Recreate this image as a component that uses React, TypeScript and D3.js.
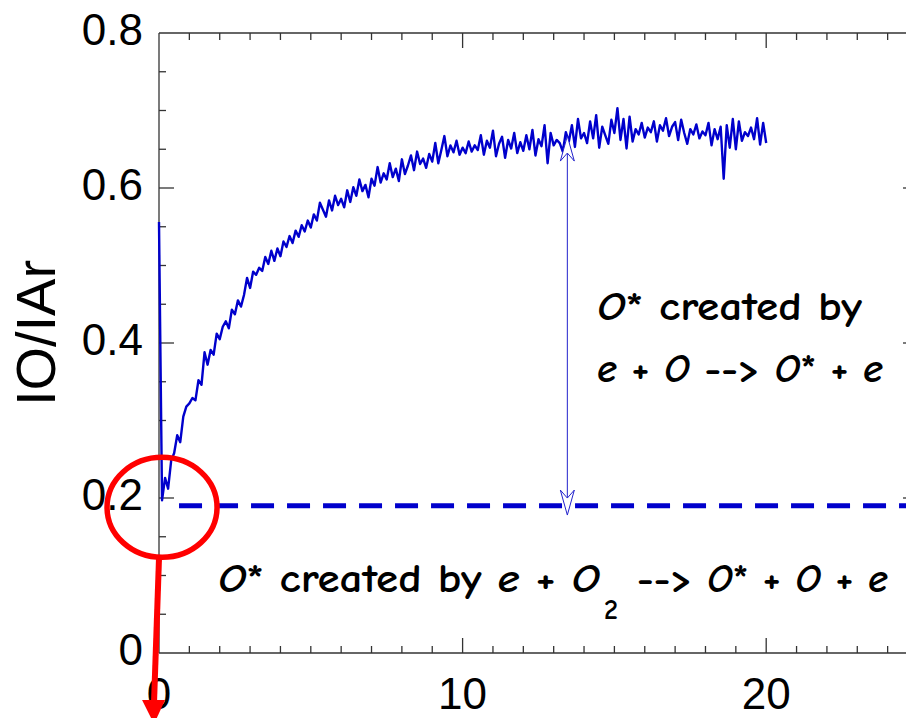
import React from 'react'
import * as d3 from 'd3'

const W = 906
const H = 718

// IO/IAr ratio, sampled every 0.1 time unit from t = 0 to t = 20
const SAMPLE_START = 0
const SAMPLE_STEP = 0.1
const ratio = [
  0.556, 0.197, 0.226, 0.212, 0.248, 0.258, 0.281, 0.272, 0.305, 0.318,
  0.322, 0.329, 0.326, 0.352, 0.346, 0.388, 0.372, 0.391, 0.385, 0.412,
  0.405, 0.421, 0.428, 0.419, 0.443, 0.437, 0.455, 0.447, 0.462, 0.484,
  0.471, 0.492, 0.488, 0.497, 0.493, 0.511, 0.502, 0.519, 0.506, 0.522,
  0.512, 0.531, 0.524, 0.538, 0.529, 0.545, 0.537, 0.552, 0.544, 0.558,
  0.549, 0.566, 0.558, 0.581, 0.572, 0.563, 0.584, 0.571, 0.590, 0.578,
  0.586, 0.575, 0.597, 0.582, 0.601, 0.590, 0.611, 0.596, 0.604, 0.588,
  0.612, 0.603, 0.627, 0.607, 0.619, 0.611, 0.632, 0.614, 0.625, 0.609,
  0.637, 0.618, 0.629, 0.642, 0.623, 0.647, 0.631, 0.638, 0.626, 0.644,
  0.634, 0.658, 0.632, 0.649, 0.667, 0.641, 0.655, 0.646, 0.661, 0.643,
  0.652, 0.645, 0.660, 0.647, 0.655, 0.649, 0.668, 0.643, 0.661, 0.652,
  0.674, 0.641, 0.657, 0.666, 0.639, 0.662, 0.651, 0.671, 0.645, 0.659,
  0.648, 0.668, 0.650, 0.675, 0.642, 0.663, 0.654, 0.681, 0.632, 0.671,
  0.655, 0.662, 0.658, 0.647, 0.672, 0.660, 0.681, 0.653, 0.689, 0.664,
  0.671, 0.658, 0.686, 0.664, 0.694, 0.652, 0.679, 0.668, 0.657, 0.688,
  0.671, 0.703, 0.662, 0.689, 0.651, 0.692, 0.660, 0.676, 0.669, 0.684,
  0.665, 0.678, 0.672, 0.686, 0.660, 0.681, 0.674, 0.690, 0.667, 0.679,
  0.685, 0.662, 0.688, 0.671, 0.657, 0.676, 0.669, 0.682, 0.664, 0.673,
  0.668, 0.684, 0.655, 0.676, 0.663, 0.679, 0.612, 0.681, 0.652, 0.689,
  0.650, 0.686, 0.661, 0.672, 0.667, 0.678, 0.663, 0.690, 0.656, 0.684,
  0.658,
]

const xTickLabels = [0, 10, 20]
const yTickLabels = [0, 0.2, 0.4, 0.6, 0.8]

// annotation levels
const baseLevel = 0.19 // dashed line: O* from e + O2
const dashStart = 0.66
const arrowT = 13.45
const arrowTop = 0.667
const arrowBottom = 0.178
const circleT = 0.1
const circleLevel = 0.188

const BLUE = '#0000cc'
const AXIS = '#333'
const comic = "'Comic Sans MS','Comic Neue','DejaVu Sans',sans-serif"
const arial = "Arial,'Liberation Sans',sans-serif"

export default function App() {
  const x = d3.scaleLinear().domain([0, 25]).range([159, 918])
  const y = d3.scaleLinear().domain([0, 0.8]).range([653, 33])

  const pts: [number, number][] = ratio.map((v, i) => [SAMPLE_START + i * SAMPLE_STEP, v])
  const line = d3
    .line<[number, number]>()
    .x((d) => x(d[0]))
    .y((d) => y(d[1]))

  const minorX = d3.range(1, 25)
  const minorY = d3.range(0.05, 0.8, 0.05)

  const ax = x(arrowT)
  const yTop = y(arrowTop)
  const yBot = y(arrowBottom)
  // open notched arrowhead, tip at origin pointing down
  const headDown = '0,0 -7,-25 0,-17 7,-25'
  const headUp = '0,0 -7,25 0,17 7,25'

  const cx = x(circleT)
  const cy = y(circleLevel)

  return (
    <>
      <style>{'body{margin:0}'}</style>
      <svg width={W} height={H} style={{ display: 'block', background: '#fff' }}>
        {/* frame */}
        <g stroke={AXIS} strokeWidth={1.3} fill="none">
          <line x1={x(0)} x2={x(25)} y1={y(0.8)} y2={y(0.8)} />
          <line x1={x(0)} x2={x(25)} y1={y(0)} y2={y(0)} />
          <line x1={x(0)} x2={x(0)} y1={y(0)} y2={y(0.8)} />
          <line x1={x(25)} x2={x(25)} y1={y(0)} y2={y(0.8)} />
        </g>

        {/* ticks, all inward */}
        <g stroke={AXIS} strokeWidth={1.3}>
          {minorX.map((t) => {
            const len = t % 10 === 0 ? 15 : 7
            return (
              <g key={'xt' + t}>
                <line x1={x(t)} x2={x(t)} y1={y(0)} y2={y(0) - len} />
                <line x1={x(t)} x2={x(t)} y1={y(0.8)} y2={y(0.8) + len} />
              </g>
            )
          })}
          {minorY.map((v, i) => {
            const len = (i + 1) % 4 === 0 ? 15 : 7
            return (
              <g key={'yt' + i}>
                <line x1={x(0)} x2={x(0) + len} y1={y(v)} y2={y(v)} />
                <line x1={x(25)} x2={x(25) - len} y1={y(v)} y2={y(v)} />
              </g>
            )
          })}
        </g>

        {/* tick labels */}
        <g fontFamily={arial} fontSize={44} fill="#000">
          {yTickLabels.map((v) => (
            <text key={'yl' + v} x={143} y={y(v) + 12} textAnchor="end">
              {v === 0 ? '0' : v.toFixed(1)}
            </text>
          ))}
          {xTickLabels.map((t) => (
            <text key={'xl' + t} x={x(t)} y={709} textAnchor="middle">
              {t}
            </text>
          ))}
        </g>

        <text
          transform="translate(55,333) rotate(-90)"
          textAnchor="middle"
          fontFamily={arial}
          fontSize={56}
          fill="#000"
        >
          IO/IAr
        </text>

        {/* data */}
        <path d={line(pts) || ''} fill="none" stroke={BLUE} strokeWidth={2.4} strokeLinejoin="round" />

        {/* baseline from e + O2 */}
        <line
          x1={x(dashStart)}
          x2={x(25)}
          y1={y(baseLevel)}
          y2={y(baseLevel)}
          stroke={BLUE}
          strokeWidth={5}
          strokeDasharray="23 13"
        />

        {/* double arrow between the two levels */}
        <line x1={ax} x2={ax} y1={yTop + 17} y2={yBot - 17} stroke="#2222cc" strokeWidth={1} />
        <polygon
          points={headDown}
          transform={`translate(${ax},${yBot})`}
          fill="#fff"
          stroke="#2222cc"
          strokeWidth={1}
        />
        <polygon
          points={headUp}
          transform={`translate(${ax},${yTop})`}
          fill="#fff"
          stroke="#2222cc"
          strokeWidth={1}
        />

        {/* annotations */}
        <g fontFamily={comic} fontSize={41} fontWeight="bold" fill="#000">
          <text x={597} y={320} textLength={265} lengthAdjust="spacingAndGlyphs">
            <tspan fontStyle="italic">O</tspan>* created by
          </text>
          <text x={597} y={382} textLength={286} lengthAdjust="spacingAndGlyphs">
            <tspan fontStyle="italic">e</tspan> + <tspan fontStyle="italic">O</tspan> --{'>'}{' '}
            <tspan fontStyle="italic">O</tspan>* + <tspan fontStyle="italic">e</tspan>
          </text>
          <text x={218} y={592} textLength={382} lengthAdjust="spacingAndGlyphs">
            <tspan fontStyle="italic">O</tspan>* created by{'  '}
            <tspan fontStyle="italic">e</tspan> + <tspan fontStyle="italic">O</tspan>
          </text>
          <text x={604} y={619} fontSize={28}>
            2
          </text>
          <text x={637} y={592} textLength={251} lengthAdjust="spacingAndGlyphs">
            --{'>'} <tspan fontStyle="italic">O</tspan>* + <tspan fontStyle="italic">O</tspan> +{' '}
            <tspan fontStyle="italic">e</tspan>
          </text>
        </g>

        {/* red highlight */}
        <ellipse cx={cx} cy={cy} rx={55} ry={50} fill="none" stroke="#ff0000" strokeWidth={5.5} />
        <line x1={cx - 3} y1={cy + 50} x2={cx - 8} y2={702} stroke="#ff0000" strokeWidth={6} />
        <polygon
          points={`${cx - 20},700 ${cx + 3},700 ${cx - 8},724`}
          fill="#ff0000"
        />
      </svg>
    </>
  )
}
